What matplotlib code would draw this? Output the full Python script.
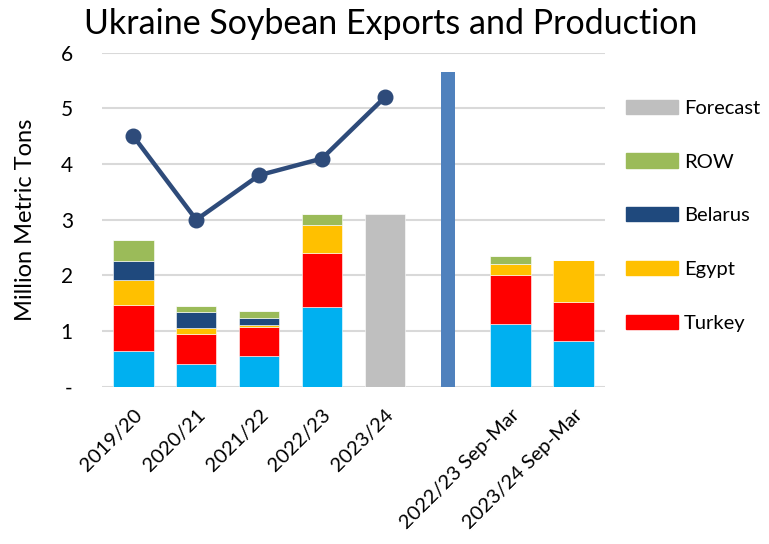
import matplotlib
matplotlib.use('Agg')
import matplotlib.pyplot as plt
from matplotlib.patches import Patch

plt.rcParams['font.family'] = ['Lato', 'DejaVu Sans']

# data (million metric tons)
categories = ['2019/20', '2020/21', '2021/22', '2022/23', '2023/24', '',
              '2022/23 Sep-Mar', '2023/24 Sep-Mar']
other = [0.65, 0.41, 0.55, 1.44, 0, 0, 1.13, 0.83]
turkey = [0.82, 0.54, 0.53, 0.97, 0, 0, 0.88, 0.69]
egypt = [0.45, 0.11, 0.03, 0.49, 0, 0, 0.19, 0.76]
belarus = [0.34, 0.29, 0.12, 0.0, 0, 0, 0.0, 0.0]
row = [0.37, 0.11, 0.14, 0.20, 0, 0, 0.15, 0.0]
forecast = [0, 0, 0, 0, 3.10, 0, 0, 0]
production = [4.5, 3.0, 3.8, 4.1, 5.2]
separator_height = 5.66

colors = {
    'other': '#00B0F0',
    'Turkey': '#FF0000',
    'Egypt': '#FFC000',
    'Belarus': '#1F497D',
    'ROW': '#9BBB59',
    'Forecast': '#BFBFBF',
}

fig = plt.figure(figsize=(7.69, 5.44), dpi=100)
ax = fig.add_axes([0.1326, 0.289, 0.654, 0.614])

x = list(range(len(categories)))
width = 0.64
bottom = [0.0] * len(x)
for key, vals in [('other', other), ('Turkey', turkey), ('Egypt', egypt),
                  ('Belarus', belarus), ('ROW', row), ('Forecast', forecast)]:
    ax.bar(x, vals, width, bottom=bottom, color=colors[key],
           edgecolor='white', linewidth=0.4, zorder=2)
    bottom = [b + v for b, v in zip(bottom, vals)]

# vertical separator between full years and Sep-Mar comparisons
ax.bar([5], [separator_height], 0.22, color='#4F81BD', zorder=2)

ax.plot(x[:len(production)], production, color='#2E4B7A', lw=3.2,
        marker='o', markersize=10.5, zorder=3)

ax.set_xlim(-0.5, 7.5)
ax.set_ylim(0, 6)
ax.set_yticks(range(7))
ax.set_yticklabels(['-', '1', '2', '3', '4', '5', '6'], fontsize=15)
ax.set_xticks(x)
ax.set_xticklabels(categories, rotation=45, ha='right',
                   rotation_mode='anchor', fontsize=14.5)
ax.tick_params(length=0)
ax.tick_params(axis='y', pad=21)
ax.tick_params(axis='x', pad=14)
ax.grid(axis='y', color='#D9D9D9', lw=1.5, zorder=0)
ax.set_axisbelow(True)
for s in ax.spines.values():
    s.set_visible(False)

ax.set_ylabel('Million Metric Tons', fontsize=17, labelpad=18)
fig.suptitle('Ukraine Soybean Exports and Production', fontsize=24.5,
             x=0.508, y=0.985)

handles = [Patch(color=colors[k], label=k)
           for k in ['Forecast', 'ROW', 'Belarus', 'Egypt', 'Turkey']]
fig.legend(handles=handles, loc='upper left', bbox_to_anchor=(0.79, 0.85),
           frameon=False, fontsize=14.5, handlelength=2.6, handleheight=0.7,
           labelspacing=1.82, handletextpad=0.3)

fig.savefig('out.png', dpi=100)
